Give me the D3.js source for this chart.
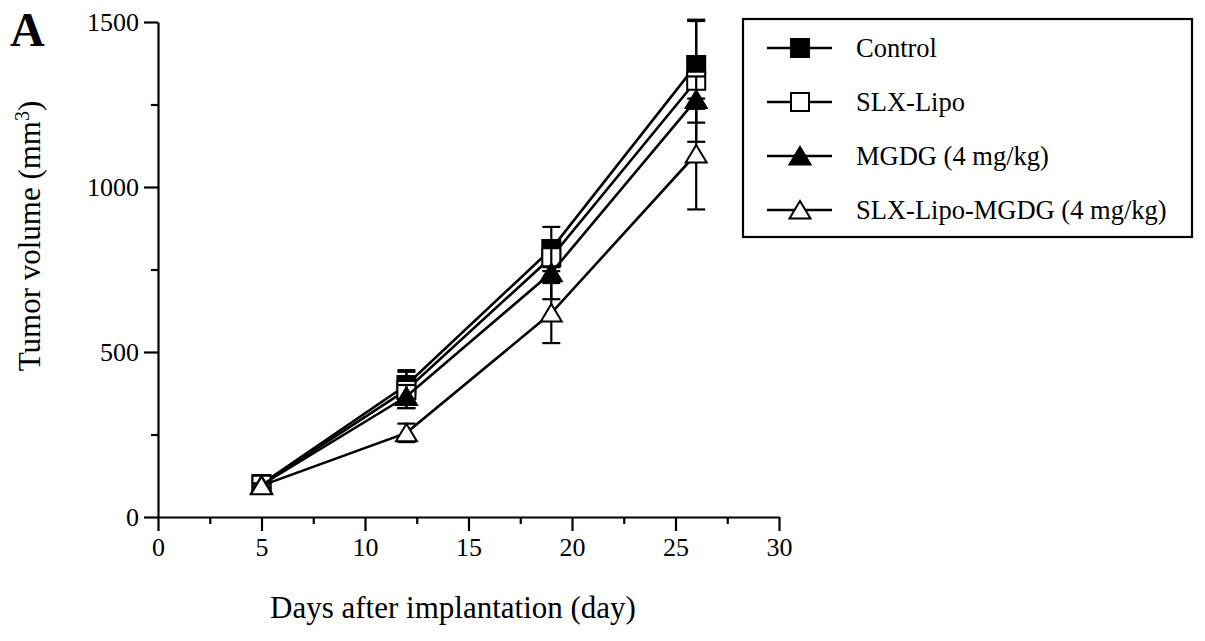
<!DOCTYPE html>
<html>
<head>
<meta charset="utf-8">
<script src="https://cdn.jsdelivr.net/npm/d3@7"></script>
<style>
  body { margin: 0; background: #fff; }
  svg { font-family: "Liberation Serif", "Times New Roman", serif; }
  text { fill: #000; }
  .axis path, .axis line { stroke: #000; stroke-width: 2.2px; }
  .axis text { font-family: "Liberation Serif", serif; font-size: 26px; fill: #000; }
</style>
</head>
<body>
<svg width="1205" height="641"></svg>
<script>
// days of measurement
var days = [5, 12, 19, 26];

// mean tumor volume (mm3) per group
var control     = [100, 400, 812, 1370];
var slxLipo     = [98, 385, 787, 1322];
var mgdg        = [97, 365, 740, 1265];
var slxLipoMgdg = [95, 255, 618, 1100];

// error (SD) per group
var controlErr     = [5, 45, 67, 133];
var slxLipoErr     = [5, 55, 30, 185];
var mgdgErr        = [5, 35, 80, 70];
var slxLipoMgdgErr = [5, 28, 91, 168];

var seriesNames = ["Control", "SLX-Lipo", "MGDG (4 mg/kg)", "SLX-Lipo-MGDG (4 mg/kg)"];
var seriesSymbols = ["square", "square", "triangle", "triangle"];
var seriesFills = ["#000", "#fff", "#000", "#fff"];

var xTicks = [0, 5, 10, 15, 20, 25, 30];
var yTicks = [0, 500, 1000, 1500];

var series = [
    {name: seriesNames[0], values: control, err: controlErr},
    {name: seriesNames[1], values: slxLipo, err: slxLipoErr},
    {name: seriesNames[2], values: mgdg, err: mgdgErr},
    {name: seriesNames[3], values: slxLipoMgdg, err: slxLipoMgdgErr}
];
series.forEach(function(s, i) {
    s.symbol = seriesSymbols[i];
    s.fill = seriesFills[i];
    s.points = days.map(function(d, j) { return {x: d, y: s.values[j], e: s.err[j]}; });
});

var svg = d3.select("svg");

var x = d3.scaleLinear().domain([0, 30]).range([158, 779]);
var y = d3.scaleLinear().domain([0, 1500]).range([517, 22]);

function styleAxis(g) {
    g.attr("font-family", "Liberation Serif, serif").attr("font-size", 26);
    g.selectAll("text").attr("fill", "#000");
}

// minor ticks
svg.append("g")
    .attr("class", "axis")
    .attr("transform", "translate(0,517)")
    .call(d3.axisBottom(x).tickValues(d3.range(2.5, 30, 5)).tickSize(7).tickSizeOuter(0).tickFormat(""))
    .select(".domain").remove();
svg.append("g")
    .attr("class", "axis")
    .attr("transform", "translate(158,0)")
    .call(d3.axisLeft(y).tickValues(d3.range(250, 1500, 500)).tickSize(7).tickSizeOuter(0).tickFormat(""))
    .select(".domain").remove();

svg.append("g")
    .attr("class", "axis")
    .attr("transform", "translate(0,517)")
    .call(d3.axisBottom(x).tickValues(xTicks).tickSize(14).tickSizeOuter(0).tickPadding(7).tickFormat(d3.format("d")))
    .call(styleAxis);

svg.append("g")
    .attr("class", "axis")
    .attr("transform", "translate(158,0)")
    .call(d3.axisLeft(y).tickValues(yTicks).tickSize(14).tickSizeOuter(0).tickPadding(5).tickFormat(d3.format("d")))
    .call(styleAxis);

// markers: squares and bbox-centred triangles
function symPath(s) {
    if (s.symbol === "square") return "M-9,-9H9V9H-9Z";
    return "M0,-9L10.5,8.5H-10.5Z";
}

var line = d3.line()
    .x(function(d) { return x(d.x); })
    .y(function(d) { return y(d.y); });

var capW = 9;

series.forEach(function(s) {
    var g = svg.append("g");

    g.append("path")
        .attr("d", line(s.points))
        .attr("fill", "none")
        .attr("stroke", "#000")
        .attr("stroke-width", 2.6);

    var eb = g.selectAll(".err")
        .data(s.points)
        .enter().append("g")
        .attr("stroke", "#000")
        .attr("stroke-width", 2.2);
    eb.append("line")
        .attr("x1", function(d) { return x(d.x); })
        .attr("x2", function(d) { return x(d.x); })
        .attr("y1", function(d) { return y(d.y - d.e); })
        .attr("y2", function(d) { return y(d.y + d.e); });
    eb.append("line")
        .attr("x1", function(d) { return x(d.x) - capW; })
        .attr("x2", function(d) { return x(d.x) + capW; })
        .attr("y1", function(d) { return y(d.y + d.e); })
        .attr("y2", function(d) { return y(d.y + d.e); });
    eb.append("line")
        .attr("x1", function(d) { return x(d.x) - capW; })
        .attr("x2", function(d) { return x(d.x) + capW; })
        .attr("y1", function(d) { return y(d.y - d.e); })
        .attr("y2", function(d) { return y(d.y - d.e); });

    g.selectAll(".mark")
        .data(s.points)
        .enter().append("path")
        .attr("d", symPath(s))
        .attr("transform", function(d) { return "translate(" + x(d.x) + "," + y(d.y) + ")"; })
        .attr("fill", s.fill)
        .attr("stroke", "#000")
        .attr("stroke-width", 2);
});

// axis titles
svg.append("text")
    .attr("x", 453)
    .attr("y", 618)
    .attr("text-anchor", "middle")
    .attr("font-size", 31)
    .attr("fill", "#000")
    .text("Days after implantation (day)");

var yt = svg.append("text")
    .attr("transform", "translate(40,236) rotate(-90)")
    .attr("text-anchor", "middle")
    .attr("font-size", 31)
    .attr("fill", "#000");
yt.append("tspan").text("Tumor volume (mm");
yt.append("tspan").attr("baseline-shift", "super").attr("font-size", 20).text("3");
yt.append("tspan").text(")");

svg.append("text")
    .attr("x", 10)
    .attr("y", 46)
    .attr("font-size", 48)
    .attr("font-weight", "bold")
    .attr("fill", "#000")
    .text("A");

// legend
var legend = svg.append("g");
legend.append("rect")
    .attr("x", 743).attr("y", 19)
    .attr("width", 449).attr("height", 218)
    .attr("fill", "#fff")
    .attr("stroke", "#000")
    .attr("stroke-width", 2.2);

var legendY = d3.scalePoint().domain(seriesNames).range([48, 210]);

var item = legend.selectAll(".item")
    .data(series)
    .enter().append("g")
    .attr("transform", function(d) { return "translate(0," + legendY(d.name) + ")"; });
item.append("line")
    .attr("x1", 767).attr("x2", 832)
    .attr("stroke", "#000").attr("stroke-width", 2.4);
item.append("path")
    .attr("d", function(d) { return symPath(d); })
    .attr("transform", "translate(800,0)")
    .attr("fill", function(d) { return d.fill; })
    .attr("stroke", "#000").attr("stroke-width", 2);
item.append("text")
    .attr("x", 856)
    .attr("y", 9)
    .attr("font-size", 26.5)
    .attr("fill", "#000")
    .text(function(d) { return d.name; });
</script>
</body>
</html>
